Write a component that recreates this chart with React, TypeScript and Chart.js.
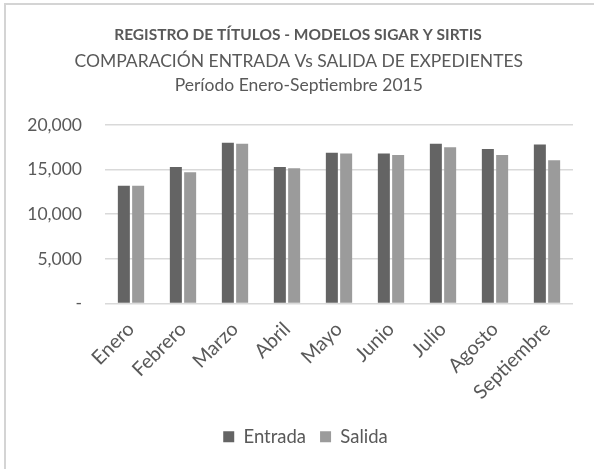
import React, { useEffect, useRef } from "react";
import Chart from "chart.js/auto";

const categories = ["Enero", "Febrero", "Marzo", "Abril", "Mayo", "Junio", "Julio", "Agosto", "Septiembre"];
const entrada = [13200, 15300, 18000, 15300, 16900, 16800, 17900, 17300, 17800];
const salida = [13200, 14700, 17900, 15150, 16800, 16650, 17500, 16650, 16050];
const yTicks = [0, 5000, 10000, 15000, 20000];
const seriesNames = ["Entrada", "Salida"];
const titleText = "REGISTRO DE TÍTULOS - MODELOS SIGAR Y SIRTIS    ";
const subtitleLines = ["COMPARACIÓN ENTRADA Vs SALIDA DE EXPEDIENTES   ", "Período Enero-Septiembre 2015   "];

const FONT = "Lato, 'Open Sans', sans-serif";
const TEXT = "#595959";

export default function App() {
  const ref = useRef<HTMLCanvasElement | null>(null);
  useEffect(() => {
    if (!ref.current) return;
    const chart = new Chart(ref.current, {
      type: "bar",
      data: {
        labels: categories,
        datasets: [
          { label: seriesNames[0], data: entrada, backgroundColor: "#646464", categoryPercentage: 0.55, barPercentage: 0.84 },
          { label: seriesNames[1], data: salida, backgroundColor: "#9b9b9b", categoryPercentage: 0.55, barPercentage: 0.84 },
        ],
      },
      options: {
        responsive: false,
        animation: false,
        layout: { padding: { top: 23, left: 26, right: 9, bottom: 13 } },
        plugins: {
          title: {
            display: true,
            text: titleText,
            color: TEXT,
            font: { family: FONT, size: 15.5, weight: "bold", lineHeight: 1.55 },
            padding: { top: 0, bottom: 2 },
          },
          subtitle: {
            display: true,
            text: subtitleLines,
            color: TEXT,
            font: { family: FONT, size: 17.5, lineHeight: 1.37 },
            padding: { top: 0, bottom: 28 },
          },
          legend: {
            position: "bottom",
            labels: {
              color: TEXT,
              font: { family: FONT, size: 18.5 },
              boxWidth: 11,
              boxHeight: 11,
              padding: 14,
            },
          },
          tooltip: { enabled: false },
        },
        scales: {
          x: {
            grid: { display: false },
            border: { display: false },
            afterFit: (s: any) => {
              s.height = 110;
            },
            ticks: {
              color: TEXT,
              font: { family: FONT, size: 19.7 },
              maxRotation: 45,
              minRotation: 45,
              padding: 6,
            },
          },
          y: {
            min: 0,
            max: 20000,
            afterBuildTicks: (axis: any) => {
              axis.ticks = yTicks.map((v) => ({ value: v }));
            },
            afterFit: (s: any) => {
              s.width = 79;
            },
            grid: { color: "#d9d9d9", lineWidth: 1.5, drawTicks: false },
            border: { display: false },
            ticks: {
              color: TEXT,
              font: { family: FONT, size: 17.5 },
              padding: 23,
              callback: (v: any) => (Number(v) === 0 ? "-" : Number(v).toLocaleString("en-US")),
            },
          },
          yRight: {
            type: "linear",
            axis: "y",
            position: "right",
            display: true,
            min: 0,
            max: 20000,
            grid: { display: false, drawTicks: false },
            border: { display: false },
            ticks: { display: false },
            afterFit: (s: any) => {
              s.width = 12;
            },
          },
        },
      },
    });
    return () => chart.destroy();
  }, []);
  return (
    <div style={{ position: "fixed", left: 0, top: 0, width: 594, height: 469, background: "#fff", overflow: "hidden" }}>
      <div
        style={{
          position: "absolute",
          left: 4,
          top: 3,
          width: 600,
          height: 480,
          borderTop: "2px solid #d4d4d4",
          borderLeft: "2px solid #d4d4d4",
        }}
      />
      <canvas ref={ref} width={594} height={469} style={{ position: "absolute", left: 0, top: 0 }} />
    </div>
  );
}
